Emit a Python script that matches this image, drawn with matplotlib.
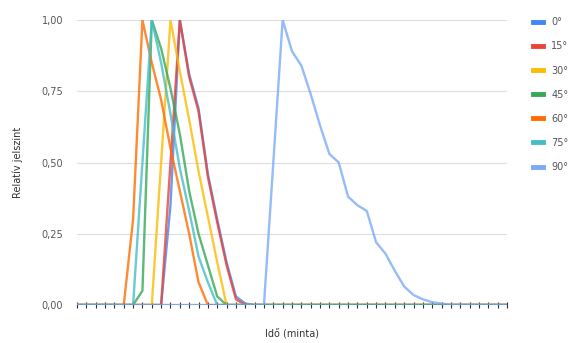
import numpy as np
from matplotlib import pyplot as plt

# time samples 0..46
samples = list(range(47))
series_names = ['0°', '15°', '30°', '45°', '60°', '75°', '90°']
colors = ['#4285F4', '#EA4335', '#FBBC04', '#34A853', '#FF6D01', '#46BDC6', '#7BAAF7']

# non-zero part of each series: start index, values
deg0_start = 9
deg0 = [0, 0.35, 1.0, 0.81, 0.69, 0.46, 0.30, 0.15, 0.03, 0.005, 0]
deg15_start = 9
deg15 = [0, 0.5, 1.0, 0.80, 0.68, 0.45, 0.29, 0.14, 0.02, 0]
deg30_start = 8
deg30 = [0, 0.5, 1.0, 0.82, 0.65, 0.47, 0.31, 0.15, 0]
deg45_start = 6
deg45 = [0, 0.05, 1.0, 0.90, 0.76, 0.60, 0.40, 0.25, 0.14, 0.03, 0]
deg60_start = 5
deg60 = [0, 0.30, 1.0, 0.85, 0.72, 0.55, 0.40, 0.25, 0.08, 0]
deg75_start = 6
deg75 = [0, 0.5, 1.0, 0.85, 0.67, 0.48, 0.33, 0.17, 0.08, 0]
deg90_start = 20
deg90 = [0, 0.5, 1.0, 0.89, 0.84, 0.74, 0.63, 0.53, 0.50, 0.38, 0.35, 0.33,
         0.22, 0.18, 0.12, 0.065, 0.035, 0.02, 0.01, 0.005, 0]

starts = [deg0_start, deg15_start, deg30_start, deg45_start, deg60_start, deg75_start, deg90_start]
parts = [deg0, deg15, deg30, deg45, deg60, deg75, deg90]


def full_series(start, part):
    y = np.zeros(len(samples))
    y[start:start + len(part)] = part
    return y


fig = plt.figure(figsize=(5.75, 3.43), dpi=100)
ax = fig.add_axes([77 / 575, 1 - 305 / 343, (507 - 77) / 575, 285 / 343])

for name, col, st, part in zip(series_names, colors, starts, parts):
    ax.plot(samples, full_series(st, part), color=col, lw=1.7, alpha=0.8,
            label=name, solid_joinstyle='round')

ax.axhline(0, color='#333a55', lw=0.9, zorder=5)
ax.set_xlim(0, len(samples) - 1)
ax.set_ylim(0, 1)
ax.set_xticks(samples)
ax.set_xticklabels([])
ax.tick_params(axis='x', direction='inout', length=4, width=0.8, color='#333333')
for t in ax.xaxis.get_major_ticks():
    t.tick1line.set_zorder(6)
ax.set_yticks([0, 0.25, 0.5, 0.75, 1.0])
ax.set_yticklabels(['0,00', '0,25', '0,50', '0,75', '1,00'])
ax.tick_params(axis='y', length=0, pad=10, labelsize=7, labelcolor='#555555')
ax.grid(axis='y', color='#dddddd', lw=0.8)
ax.set_axisbelow(True)
for s in ax.spines.values():
    s.set_visible(False)

ax.set_ylabel('Relatív jelszint', fontsize=7, color='#333333', labelpad=13)
ax.set_xlabel('Idő (minta)', fontsize=7, color='#333333', labelpad=12)

leg = ax.legend(loc='upper left', bbox_to_anchor=(1.04, 1.04), frameon=False,
                fontsize=7, handlelength=1.0, handletextpad=0.9, labelspacing=1.45,
                labelcolor='#555555')
for h in leg.get_lines():
    h.set_linewidth(3.5)
    h.set_alpha(1)

fig.savefig('out.png', dpi=100)
